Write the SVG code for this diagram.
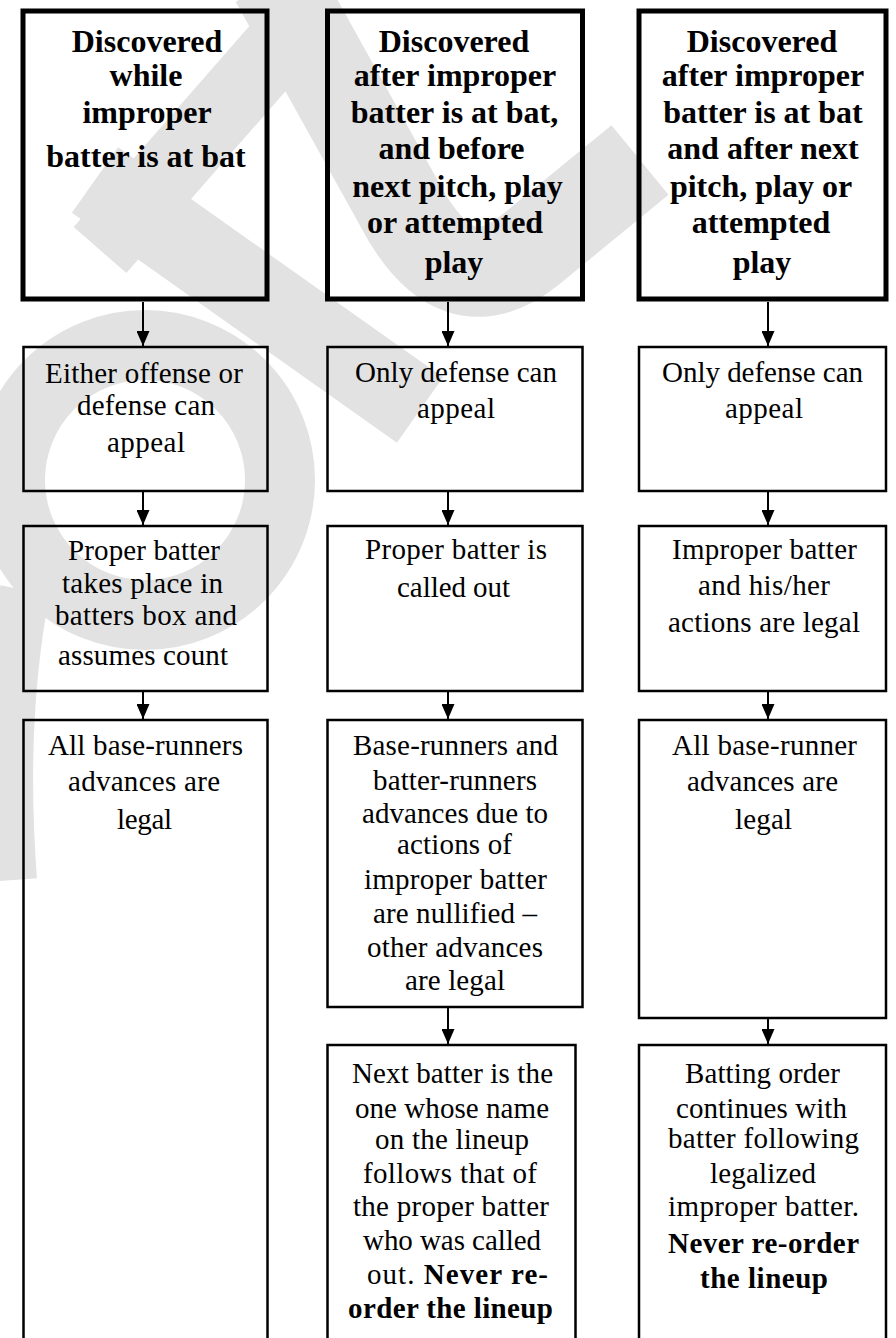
<svg xmlns="http://www.w3.org/2000/svg" width="896" height="1338" viewBox="0 0 896 1338">
<style>
.wm{fill:none;stroke:#e2e2e2}
.hd{fill:none;stroke:#000;stroke-width:5}
.bx{fill:none;stroke:#000;stroke-width:2.5}
.conn line{stroke:#000;stroke-width:2}
text{font-family:"Liberation Serif","Times New Roman",serif;fill:#000;text-anchor:middle}
.b{font-size:32px;font-weight:bold}
.r{font-size:29px}
.rb{font-size:29px;font-weight:bold}
</style>
<defs>
<marker id="ah" viewBox="0 0 15 13" refX="15" refY="6.5" markerWidth="15" markerHeight="13" orient="auto" markerUnits="userSpaceOnUse">
<path d="M0,0 L15,6.5 L0,13 z" fill="#000"/>
</marker>
</defs>
<rect width="896" height="1338" fill="#fff"/>
<g id="watermark">
<path class="wm" stroke-width="90" d="M275,-20 L400,205 Q455,310 530,250 L640,160"/>
<path class="wm" stroke-width="80" d="M95,180 L420,410"/>
<path class="wm" stroke-width="70" d="M100,250 L310,10"/>
<circle class="wm" stroke-width="70" cx="145" cy="480" r="135"/>
<path class="wm" stroke-width="50" d="M25,590 Q0,720 12,880"/>
</g>
<g id="connectors" class="conn">
<line x1="143" y1="302" x2="143" y2="346" marker-end="url(#ah)"/>
<line x1="448" y1="302" x2="448" y2="346" marker-end="url(#ah)"/>
<line x1="768" y1="302" x2="768" y2="346" marker-end="url(#ah)"/>
<line x1="143" y1="492" x2="143" y2="525" marker-end="url(#ah)"/>
<line x1="448" y1="492" x2="448" y2="525" marker-end="url(#ah)"/>
<line x1="768" y1="492" x2="768" y2="525" marker-end="url(#ah)"/>
<line x1="143" y1="692" x2="143" y2="719" marker-end="url(#ah)"/>
<line x1="448" y1="692" x2="448" y2="719" marker-end="url(#ah)"/>
<line x1="768" y1="692" x2="768" y2="719" marker-end="url(#ah)"/>
<line x1="448" y1="1008" x2="448" y2="1044" marker-end="url(#ah)"/>
<line x1="768" y1="1019" x2="768" y2="1044" marker-end="url(#ah)"/>
</g>
<g id="h1">
<rect class="hd" x="23" y="11" width="244" height="288"/>
<text class="b" x="147" y="52">Discovered</text>
<text class="b" x="146" y="86">while</text>
<text class="b" x="147" y="123">improper</text>
<text class="b" x="146" y="167">batter is at bat</text>
</g>
<g id="h2">
<rect class="hd" x="327.5" y="11" width="255" height="288"/>
<text class="b" x="454" y="52">Discovered</text>
<text class="b" x="455" y="86">after improper</text>
<text class="b" x="454.5" y="123">batter is at bat,</text>
<text class="b" x="451.5" y="159">and before</text>
<text class="b" x="457.5" y="197">next pitch, play</text>
<text class="b" x="455" y="233">or attempted</text>
<text class="b" x="454" y="273">play</text>
</g>
<g id="h3">
<rect class="hd" x="639" y="11" width="247" height="288"/>
<text class="b" x="762" y="52">Discovered</text>
<text class="b" x="763" y="86">after improper</text>
<text class="b" x="763" y="123">batter is at bat</text>
<text class="b" x="763" y="159">and after next</text>
<text class="b" x="761" y="197">pitch, play or</text>
<text class="b" x="761" y="233">attempted</text>
<text class="b" x="762" y="273">play</text>
</g>
<g id="c1r2">
<rect class="bx" x="23.5" y="347" width="244" height="144"/>
<text class="r" x="144" y="383" textLength="198" lengthAdjust="spacing">Either offense or</text>
<text class="r" x="146" y="415" textLength="138" lengthAdjust="spacing">defense can</text>
<text class="r" x="146" y="452" textLength="78" lengthAdjust="spacing">appeal</text>
</g>
<g id="c1r3">
<rect class="bx" x="23.5" y="526" width="244" height="165"/>
<text class="r" x="144" y="560" textLength="152" lengthAdjust="spacing">Proper batter</text>
<text class="r" x="142.5" y="593" textLength="161" lengthAdjust="spacing">takes place in</text>
<text class="r" x="146" y="625" textLength="182" lengthAdjust="spacing">batters box and</text>
<text class="r" x="143" y="665" textLength="170" lengthAdjust="spacing">assumes count</text>
</g>
<g id="c1r4">
<rect class="bx" x="23.5" y="720" width="244" height="640"/>
<text class="r" x="145.5" y="755" textLength="195" lengthAdjust="spacing">All base-runners</text>
<text class="r" x="144" y="791" textLength="152" lengthAdjust="spacing">advances are</text>
<text class="r" x="144.5" y="829" textLength="55" lengthAdjust="spacing">legal</text>
</g>
<g id="c2r2">
<rect class="bx" x="327.5" y="347" width="255" height="144"/>
<text class="r" x="456" y="382" textLength="202" lengthAdjust="spacing">Only defense can</text>
<text class="r" x="456" y="418" textLength="78" lengthAdjust="spacing">appeal</text>
</g>
<g id="c2r3">
<rect class="bx" x="327.5" y="526" width="255" height="165"/>
<text class="r" x="456" y="559" textLength="182" lengthAdjust="spacing">Proper batter is</text>
<text class="r" x="453.5" y="597" textLength="113" lengthAdjust="spacing">called out</text>
</g>
<g id="c2r4">
<rect class="bx" x="327.5" y="720" width="255" height="287"/>
<text class="r" x="455.5" y="755" textLength="205" lengthAdjust="spacing">Base-runners and</text>
<text class="r" x="455" y="790" textLength="164" lengthAdjust="spacing">batter-runners</text>
<text class="r" x="455" y="823" textLength="186" lengthAdjust="spacing">advances due to</text>
<text class="r" x="454.5" y="854" textLength="115" lengthAdjust="spacing">actions of</text>
<text class="r" x="455.5" y="889" textLength="183" lengthAdjust="spacing">improper batter</text>
<text class="r" x="455" y="923" textLength="164" lengthAdjust="spacing">are nullified –</text>
<text class="r" x="455" y="957" textLength="176" lengthAdjust="spacing">other advances</text>
<text class="r" x="455" y="990" textLength="100" lengthAdjust="spacing">are legal</text>
</g>
<g id="c2r5">
<rect class="bx" x="327.5" y="1045" width="248" height="320"/>
<text class="r" x="452.5" y="1083" textLength="201" lengthAdjust="spacing">Next batter is the</text>
<text class="r" x="452" y="1118" textLength="194" lengthAdjust="spacing">one whose name</text>
<text class="r" x="452" y="1149" textLength="154" lengthAdjust="spacing">on the lineup</text>
<text class="r" x="450" y="1183" textLength="174" lengthAdjust="spacing">follows that of</text>
<text class="r" x="451" y="1216" textLength="196" lengthAdjust="spacing">the proper batter</text>
<text class="r" x="452" y="1250" textLength="178" lengthAdjust="spacing">who was called</text>
<text class="r" x="457.5" y="1284" textLength="181" lengthAdjust="spacing">out. <tspan font-weight="bold">Never re-</tspan></text>
<text class="rb" x="450.5" y="1318" textLength="205" lengthAdjust="spacing">order the lineup</text>
</g>
<g id="c3r2">
<rect class="bx" x="639" y="347" width="247" height="144"/>
<text class="r" x="762.5" y="382" textLength="201" lengthAdjust="spacing">Only defense can</text>
<text class="r" x="764" y="418" textLength="78" lengthAdjust="spacing">appeal</text>
</g>
<g id="c3r3">
<rect class="bx" x="639" y="526" width="247" height="165"/>
<text class="r" x="764.5" y="559" textLength="185" lengthAdjust="spacing">Improper batter</text>
<text class="r" x="764" y="595" textLength="132" lengthAdjust="spacing">and his/her</text>
<text class="r" x="764" y="632" textLength="192" lengthAdjust="spacing">actions are legal</text>
</g>
<g id="c3r4">
<rect class="bx" x="639" y="720" width="247" height="298"/>
<text class="r" x="764.5" y="755" textLength="185" lengthAdjust="spacing">All base-runner</text>
<text class="r" x="762.5" y="791" textLength="151" lengthAdjust="spacing">advances are</text>
<text class="r" x="763.5" y="829" textLength="57" lengthAdjust="spacing">legal</text>
</g>
<g id="c3r5">
<rect class="bx" x="639" y="1045" width="247" height="320"/>
<text class="r" x="762.5" y="1083" textLength="155" lengthAdjust="spacing">Batting order</text>
<text class="r" x="761.5" y="1118" textLength="171" lengthAdjust="spacing">continues with</text>
<text class="r" x="763.5" y="1148" textLength="191" lengthAdjust="spacing">batter following</text>
<text class="r" x="763" y="1183" textLength="106" lengthAdjust="spacing">legalized</text>
<text class="r" x="763.5" y="1216" textLength="191" lengthAdjust="spacing">improper batter.</text>
<text class="rb" x="763.5" y="1253" textLength="191" lengthAdjust="spacing">Never re-order</text>
<text class="rb" x="764" y="1288" textLength="128" lengthAdjust="spacing">the lineup</text>
</g>
</svg>
